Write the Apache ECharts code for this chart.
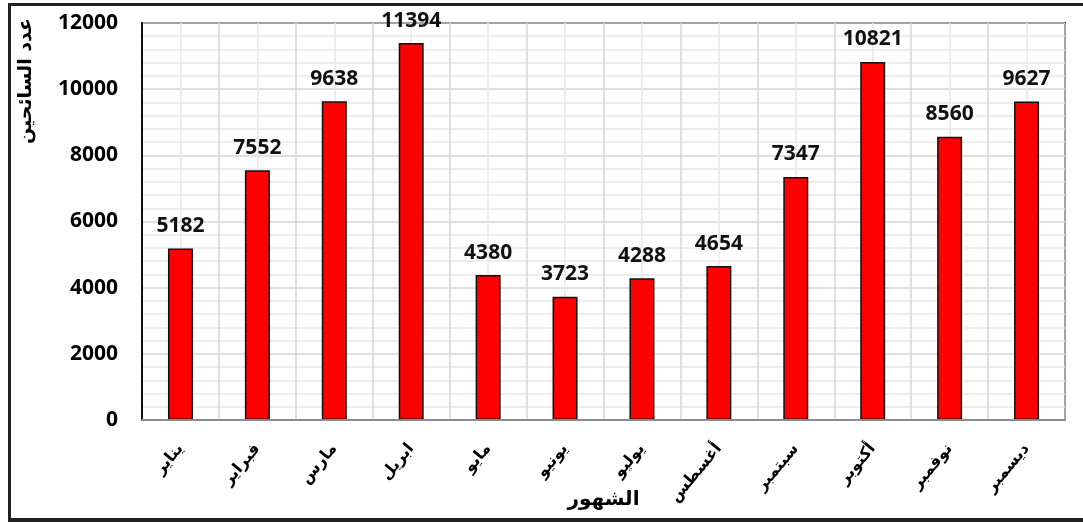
<!DOCTYPE html>
<html>
<head>
<meta charset="utf-8">
<script src="https://cdn.jsdelivr.net/npm/echarts@6/dist/echarts.min.js"></script>
<style>
  html, body { margin: 0; padding: 0; background: #fff; }
  #frame {
    position: absolute; left: 8px; top: 3px; width: 1080px; height: 512px;
    border-left: 3px solid #222; border-top: 3px solid #222; border-bottom: 4px solid #222;
  }
  #chart { position: absolute; left: 0; top: 0; width: 1083px; height: 522px; }
</style>
</head>
<body>
<div id="frame"></div>
<div id="chart"></div>
<script>
// months (Arabic)
const months = ['يناير', 'فبراير', 'مارس', 'ابريل', 'مايو', 'يونيو', 'يوليو', 'أغسطس', 'سبتمبر', 'أكتوبر', 'نوفمبر', 'ديسمبر'];
// number of tourists per month
const tourists = [5182, 7552, 9638, 11394, 4380, 3723, 4288, 4654, 7347, 10821, 8560, 9627];
const yTicks = [0, 2000, 4000, 6000, 8000, 10000, 12000];

const chart = echarts.init(document.getElementById('chart'));

const option = {
  animation: false,
  grid: {
    left: 142, right: 18, top: 23, bottom: 102,
    outerBoundsMode: 'none',
    show: true, borderColor: '#111', borderWidth: 2, backgroundColor: 'transparent'
  },
  graphic: [{
    type: 'text',
    left: 17, top: 18,
    rotation: Math.PI / 2,
    style: {
      text: 'عدد السائحين',
      font: 'bold 19px "DejaVu Sans"',
      fill: '#000'
    }
  }],
  xAxis: [
    {
      type: 'category',
      data: months,
      axisTick: { show: false },
      axisLine: { lineStyle: { color: '#8c8c8c', width: 2 } },
      splitLine: { show: false },
      axisLabel: {
        rotate: 50, margin: 26, interval: 0,
        fontFamily: 'DejaVu Sans', fontWeight: 'bold', fontSize: 16, color: '#000'
      },
      name: 'الشهور',
      nameLocation: 'middle',
      nameGap: 80,
      nameMoveOverlap: false,
      nameTextStyle: { fontFamily: 'DejaVu Sans', fontWeight: 'bold', fontSize: 20, color: '#000', verticalAlign: 'middle' },
      z: 5
    },
    {
      // helper axis for the background cell grid
      type: 'value', min: 0, max: 12, interval: 1,
      position: 'bottom', show: true,
      axisLine: { show: false }, axisTick: { show: false }, axisLabel: { show: false },
      splitLine: { show: true, lineStyle: { color: '#d6d6d6', width: 1.5 } },
      minorTick: { show: false, splitNumber: 2 },
      minorSplitLine: { show: true, lineStyle: { color: '#e8e8e8', width: 1.5 } }
    }
  ],
  yAxis: {
    type: 'value',
    min: 0, max: 12000, interval: 2000,
    axisLine: { show: true, lineStyle: { color: '#111', width: 2 } },
    axisTick: { show: false },
    axisLabel: {
      margin: 24, fontFamily: 'Open Sans', fontWeight: 'bold', fontSize: 21, color: '#000',
      formatter: v => yTicks.includes(v) ? String(v) : ''
    },
    splitLine: { lineStyle: { color: '#d6d6d6', width: 1.5 } },
    minorTick: { show: false, splitNumber: 5 },
    minorSplitLine: { show: true, lineStyle: { color: '#e8e8e8', width: 1.5 } }
  },
  series: [{
    type: 'bar',
    data: tourists,
    xAxisIndex: 0,
    barWidth: 25,
    itemStyle: { color: '#ff0000', borderColor: '#111', borderWidth: 1.5 },
    label: {
      show: true, position: 'top', distance: 12,
      fontFamily: 'Open Sans', fontWeight: 'bold', fontSize: 21, color: '#111'
    }
  }]
};

chart.setOption(option);
</script>
</body>
</html>
